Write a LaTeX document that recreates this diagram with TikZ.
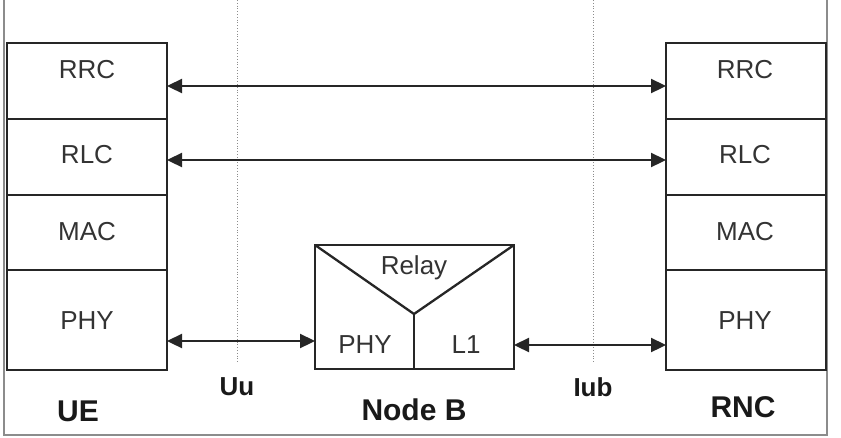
\documentclass[tikz,border=0pt]{standalone}
\usepackage{fontspec}
\setmainfont{Liberation Sans}
\usetikzlibrary{arrows.meta}
\begin{document}
\begin{tikzpicture}[x=1pt,y=-1pt,
  layer/.style={draw=black!85,line width=2.3pt,inner sep=0pt},
  lbl/.style={font=\fontsize{26}{26}\selectfont,text=black!80,inner sep=0pt},
  big/.style={font=\bfseries\fontsize{30}{30}\selectfont,text=black!90,inner sep=0pt},
  iface/.style={font=\bfseries\fontsize{26}{26}\selectfont,text=black!90,inner sep=0pt},
  link/.style={line width=2.3pt,draw=black!85,{Triangle[length=15pt,width=14pt]}-{Triangle[length=15pt,width=14pt]}},
  frame/.style={draw=black!45,line width=1.5pt},
  guide/.style={draw=black!45,line width=0.8pt,dotted}]
\useasboundingbox (0,0) rectangle (841,437);
% frame
\draw[frame] (4,0) -- (4,435) -- (827,435) -- (827,0);
% guides
\coordinate (uut) at (237,0); \coordinate (uub) at (237,362);
\coordinate (iubt) at (593,0); \coordinate (iubb) at (593,362);
\draw[guide] (uut) -- (uub);
\draw[guide] (iubt) -- (iubb);
% UE stack
\draw[layer] (7,43) rectangle (167,119);
\draw[layer] (7,119) rectangle (167,195);
\draw[layer] (7,195) rectangle (167,270);
\draw[layer] (7,270) rectangle (167,370);
\coordinate (ueRRC) at (167,86);
\coordinate (ueRLC) at (167,160);
\coordinate (uePHY) at (167,341);
\node[lbl] (t1) at (87,70) {RRC};
\node[lbl] (t2) at (87,155) {RLC};
\node[lbl] (t3) at (87,232) {MAC};
\node[lbl] (t4) at (87,321) {PHY};
% RNC stack
\draw[layer] (666,43) rectangle (826,119);
\draw[layer] (666,119) rectangle (826,195);
\draw[layer] (666,195) rectangle (826,270);
\draw[layer] (666,270) rectangle (826,370);
\coordinate (rnRRC) at (666,86);
\coordinate (rnRLC) at (666,160);
\coordinate (rnPHY) at (666,345);
\node[lbl] (r1) at (745,70) {RRC};
\node[lbl] (r2) at (745,155) {RLC};
\node[lbl] (r3) at (745,232) {MAC};
\node[lbl] (r4) at (745,321) {PHY};
% Node B
\draw[layer] (315,245) rectangle (514,369);
\draw[draw=black!85,line width=2.3pt] (315,245) -- (414,314) -- (514,245);
\draw[draw=black!85,line width=2.3pt] (414,314) -- (414,369);
\coordinate (nbL) at (315,341);
\coordinate (nbR) at (514,345);
\node[lbl] (relay) at (414,268) {Relay};
\node[lbl] (nbphy) at (365,345) {PHY};
\node[lbl] (nbl1) at (466,345) {L1};
% links
\draw[link] (ueRRC) -- (rnRRC);
\draw[link] (ueRLC) -- (rnRLC);
\draw[link] (uePHY) -- (nbL);
\draw[link] (nbR) -- (rnPHY);
% labels
\node[iface] (uu) at (237,387) {Uu};
\node[iface] (iub) at (593,387) {Iub};
\node[big] (ue) at (78,411) {UE};
\node[big] (nodeb) at (414,410) {Node B};
\node[big] (rnc) at (743,407) {RNC};
\end{tikzpicture}
\end{document}
